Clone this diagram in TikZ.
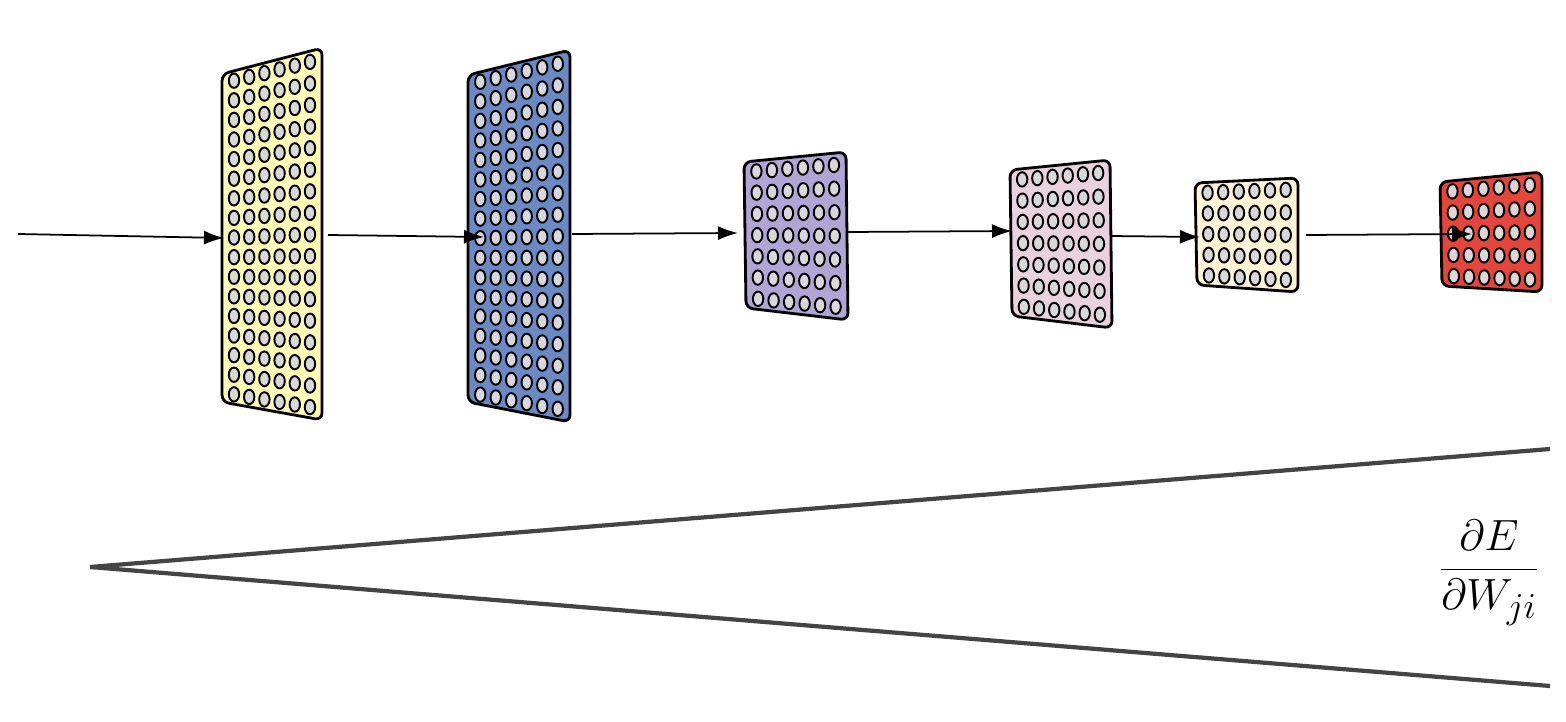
\documentclass[tikz,border=0pt]{standalone}
\usetikzlibrary{calc,arrows.meta}
\definecolor{cY}{HTML}{FFFDB3}
\definecolor{cB}{HTML}{6A8AC6}
\definecolor{cP}{HTML}{B1A5D6}
\definecolor{cK}{HTML}{E9D2DE}
\definecolor{cW}{HTML}{FFF4D3}
\definecolor{cR}{HTML}{E6453A}
\definecolor{cN}{HTML}{D8D8D8}
\definecolor{cG}{HTML}{444444}
\tikzset{
  panel/.style={draw=black,line width=1.6pt,rounded corners=0.14cm},
  neuron/.style={draw=black,fill=cN,line width=1.1pt},
  flow/.style={-{Latex[length=0.4cm,width=0.28cm]},line width=1pt},
  wedge/.style={draw=cG,line width=2.4pt}
}
\newcommand{\mylayer}[6]{% name, TL, TR, BR, BL, rows ; color via #6? 
}
\begin{document}
\begin{tikzpicture}[x=0.02cm,y=-0.02cm]
\useasboundingbox (0,0) rectangle (1566,722);
\def\drawlayer#1#2#3#4#5#6#7{%
  \coordinate (#1TL) at #2; \coordinate (#1TR) at #3;
  \coordinate (#1BR) at #4; \coordinate (#1BL) at #5;
  \path[panel,fill=#7] (#1TL) -- (#1TR) -- (#1BR) -- (#1BL) -- cycle;
  \foreach \i in {0,...,5}{
    \foreach \j in {1,...,#6}{
      \pgfmathsetmacro{\uu}{0.12+0.76*\i/5}
      \pgfmathsetmacro{\vv}{(\j-0.5)/#6}
      \path[neuron] ($ ($(#1TL)!\uu!(#1TR)$)!\vv!($(#1BL)!\uu!(#1BR)$) $) ellipse [x radius=5.2,y radius=7.2];
    }
  }
}
\drawlayer{a}{(222,74)}{(322,48)}{(322,420)}{(222,402)}{17}{cY}
\drawlayer{b}{(468,75)}{(570,50)}{(570,422)}{(468,402)}{17}{cB}
\drawlayer{c}{(744,162)}{(846,152)}{(848,320)}{(746,308)}{7}{cP}
\drawlayer{d}{(1010,170)}{(1110,160)}{(1112,328)}{(1012,316)}{7}{cK}
\drawlayer{e}{(1195,183)}{(1298,178)}{(1298,292)}{(1197,285)}{5}{cW}
\drawlayer{f}{(1440,182)}{(1542,172)}{(1542,292)}{(1442,286)}{5}{cR}

\coordinate (s0) at (18,234);  \coordinate (t0) at (224,238);
\coordinate (s1) at (328,235); \coordinate (t1) at (484,237);
\coordinate (s2) at (572,234); \coordinate (t2) at (738,233);
\coordinate (s3) at (848,232); \coordinate (t3) at (1012,231);
\coordinate (s4) at (1110,236);\coordinate (t4) at (1200,237);
\coordinate (s5) at (1306,235);\coordinate (t5) at (1472,234);
\foreach \k in {0,...,5}{\draw[flow] (s\k) -- (t\k);}

\coordinate (apex) at (90,567);
\coordinate (up) at (1550,449);
\coordinate (dn) at (1550,686);
\draw[wedge] (up) -- (apex) -- (dn);
\node (grad) at (1489,573) {\fontsize{28}{34}\selectfont$\displaystyle\frac{\partial E}{\partial W_{ji}}$};
\end{tikzpicture}
\end{document}
